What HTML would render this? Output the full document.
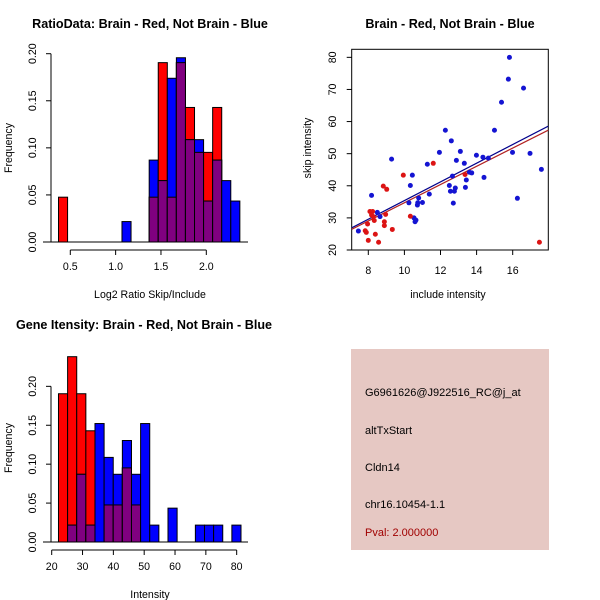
<!DOCTYPE html>
<html><head><meta charset="utf-8"><style>
body{margin:0;background:#fff;}
svg{display:block;font-family:"Liberation Sans",sans-serif;}
</style></head><body>
<svg id="c" width="600" height="600" viewBox="0 0 600 600">
<rect x="0" y="0" width="600" height="600" fill="#fff"/>
<rect x="351" y="349" width="198" height="201" fill="#e6c8c3"/>
<g font-size="11" fill="#000">
<text x="365" y="396">G6961626@J922516_RC@j_at</text>
<text x="365" y="434">altTxStart</text>
<text x="365" y="471">Cldn14</text>
<text x="365" y="508">chr16.10454-1.1</text>
<text x="365" y="536" fill="#a00000">Pval: 2.000000</text>
</g>
</svg>
<script>
// ---- Panel 1: ratio histogram ----
const ratioBinStarts = [0.37,0.47,0.57,0.67,0.77,0.87,0.97,1.07,1.17,1.27,1.37,1.47,1.57,1.67,1.77,1.87,1.97,2.07,2.17,2.27];
const ratioRed  = [0.0476,0,0,0,0,0,0,0,0,0,0.0476,0.1905,0.0476,0.1905,0.1429,0.0952,0.0952,0.1429,0,0];
const ratioBlue = [0,0,0,0,0,0,0,0.0217,0,0,0.0870,0.0652,0.1739,0.1957,0.1087,0.1087,0.0435,0.0870,0.0652,0.0435];
const ratioXTicks = [0.5,1.0,1.5,2.0];
const ratioYTicks = [0,0.05,0.10,0.15,0.20];
// ---- Panel 2: scatter ----
const blueInc  = [7.45,8.18,8.5,8.65,9.29,10.25,10.33,10.44,10.53,10.59,10.64,10.72,10.74,10.79,11.0,11.27,11.38,11.94,12.27,12.49,12.55,12.6,12.66,12.71,12.77,12.82,12.88,13.1,13.32,13.38,13.43,13.6,13.73,13.99,14.35,14.41,14.65,14.99,15.38,15.76,15.82,15.99,16.26,16.6,16.96,17.59];
const blueSkip = [25.9,37.0,31.7,30.4,48.3,34.7,40.1,43.3,30.0,28.8,29.3,34.0,34.7,36.2,34.8,46.7,37.4,50.4,57.3,40.1,38.3,54.0,43.0,34.6,38.3,39.3,47.9,50.7,47.0,39.5,41.8,44.2,44.0,49.5,48.9,42.6,48.6,57.3,66.0,73.2,80.0,50.4,36.1,70.4,50.1,45.1];
const redInc  = [7.83,7.89,7.96,8.0,8.09,8.18,8.24,8.28,8.33,8.39,8.57,8.83,8.89,8.89,8.96,9.02,9.33,9.94,10.33,11.6,13.36,17.48];
const redSkip = [26.0,25.5,28.1,23.0,32.0,30.9,32.0,30.4,29.2,24.9,22.4,39.9,28.8,27.6,31.1,38.9,26.4,43.3,30.5,47.0,43.5,22.4];
const scatXTicks = [8,10,12,14,16];
const scatYTicks = [20,30,40,50,60,70,80];
// ---- Panel 3: intensity histogram ----
const intBinStarts = [22.2,25.16,28.12,31.08,34.04,37.0,39.96,42.92,45.88,48.84,51.8,54.76,57.72,60.68,63.64,66.6,69.56,72.52,75.48,78.44];
const intRed  = [0.1905,0.2381,0.1905,0.1429,0,0.0476,0.0476,0.0952,0.0476,0,0,0,0,0,0,0,0,0,0,0];
const intBlue = [0,0.0217,0.0870,0.0217,0.1522,0.1087,0.0870,0.1304,0.0870,0.1522,0.0217,0,0.0435,0,0,0.0217,0.0217,0.0217,0,0.0217];
const intXTicks = [20,30,40,50,60,70,80];
const intYTicks = [0,0.05,0.10,0.15,0.20];

const NS='http://www.w3.org/2000/svg';
const svg=document.getElementById('c');
function mk(tag,attrs,parent){const e=document.createElementNS(NS,tag);for(const k in attrs)e.setAttribute(k,attrs[k]);(parent||svg).appendChild(e);return e;}
function txt(s,x,y,opt,parent){const t=mk('text',Object.assign({x:x,y:y,'text-anchor':'middle','font-size':10.6},opt||{}),parent);t.textContent=s;return t;}
function fmt2(v){return v.toFixed(2);}

function histPanel(name,starts,red,blue,width,xs,ys,xTicks,yTicks,axisY,yLabX,baseX0,baseX1,title,titleX,titleY,xlab,xlabY,ylabY,tickFmt){
  const g=mk('g',{});
  
  
  const y0=ys(0);
  for(let i=0;i<starts.length;i++){
    const xa=xs(starts[i]), xb=xs(starts[i]+width);
    const r=red[i], b=blue[i];
    if(r>0){const e=mk('rect',{x:xa,y:ys(r),width:xb-xa,height:y0-ys(r),fill:'#ff0000',stroke:'#000','stroke-width':1},g);
      
      }
    if(b>0){const e=mk('rect',{x:xa,y:ys(b),width:xb-xa,height:y0-ys(b),fill:'#0000ff',stroke:'#000','stroke-width':1},g);
      
      }
    const m=Math.min(r,b);
    if(m>0){const e=mk('rect',{x:xa,y:ys(m),width:xb-xa,height:y0-ys(m),fill:'#800080',stroke:'#000','stroke-width':1},g);
      
      }
  }
  mk('line',{x1:baseX0,x2:baseX1,y1:y0,y2:y0,stroke:'#000'},g);
  const xa=mk('g',{},g);
  
  
  mk('line',{x1:xs(xTicks[0]),x2:xs(xTicks[xTicks.length-1]),y1:axisY,y2:axisY,stroke:'#000'},xa);
  xTicks.forEach(t=>{mk('line',{x1:xs(t),x2:xs(t),y1:axisY,y2:axisY+5,stroke:'#000'},xa);txt(tickFmt(t),xs(t),axisY+20,{},xa);});
  const ya=mk('g',{},g);
  
  
  mk('line',{x1:yLabX+19,x2:yLabX+19,y1:ys(yTicks[0]),y2:ys(yTicks[yTicks.length-1]),stroke:'#000'},ya);
  yTicks.forEach(t=>{mk('line',{x1:yLabX+14,x2:yLabX+19,y1:ys(t),y2:ys(t),stroke:'#000'},ya);
    txt(fmt2(t),yLabX+4,ys(t),{transform:'rotate(-90 '+(yLabX+4)+' '+ys(t)+')'},ya);});
  const t1=txt(title,titleX,titleY,{'font-weight':'bold','font-size':12.6},g);
  
  
  const t2=txt(xlab,150,xlabY,{},g);
  
  
  const t3=txt('Frequency',12,ylabY,{transform:'rotate(-90 12 '+ylabY+')'},g);
  
  
}

const xs1=v=>70.3+(v-0.5)*90.67, ys1=v=>242-v*941.5;
histPanel('ratio-histogram',ratioBinStarts,ratioRed,ratioBlue,0.1,xs1,ys1,ratioXTicks,ratioYTicks,250,32,43,248,
 'RatioData: Brain - Red, Not Brain - Blue',150,28,'Log2 Ratio Skip/Include',298,148,v=>v.toFixed(1));
const xs3=v=>51.7+(v-20)*3.083, ys3=v=>542-v*778.3;
histPanel('intensity-histogram',intBinStarts,intRed,intBlue,2.96,xs3,ys3,intXTicks,intYTicks,550,32,43,248,
 'Gene Itensity: Brain - Red, Not Brain - Blue',144,329,'Intensity',598,448,v=>String(v));

const xs2=v=>368.3+(v-8)*18.05, ys2=v=>250-(v-20)*3.211;
const g2=mk('g',{});


mk('rect',{x:351.7,y:49.3,width:196.6,height:200.7,fill:'none',stroke:'#000'},g2);
const clip=mk('clipPath',{id:'sc'},g2);mk('rect',{x:351.7,y:49.3,width:196.6,height:200.7},clip);
function fit(xv,yv){const n=xv.length;let mx=0,my=0;for(let i=0;i<n;i++){mx+=xv[i];my+=yv[i];}mx/=n;my/=n;let sxy=0,sxx=0;for(let i=0;i<n;i++){sxy+=(xv[i]-mx)*(yv[i]-my);sxx+=(xv[i]-mx)**2;}const b=sxy/sxx;return [my-b*mx,b];}
const allInc=blueInc.concat(redInc), allSkip=blueSkip.concat(redSkip);
const fb=fit(allInc,allSkip), fr=fit(redInc.concat(blueInc),redSkip.concat(blueSkip));
const xl0=7.08,xl1=17.97;
const lb=mk('line',{x1:xs2(xl0),y1:ys2(fb[0]+fb[1]*xl0),x2:xs2(xl1),y2:ys2(fb[0]+fb[1]*xl1),stroke:'#00008b','stroke-width':1.2,'clip-path':'url(#sc)'},g2);


const lr=mk('line',{x1:xs2(xl0),y1:ys2(fr[0]+fr[1]*xl0)+1.5,x2:xs2(xl1),y2:ys2(fr[0]+fr[1]*xl1)+4,stroke:'#b22222','stroke-width':1.2,'clip-path':'url(#sc)'},g2);


blueInc.forEach((v,i)=>{const c=mk('circle',{cx:xs2(v),cy:ys2(blueSkip[i]),r:2.5,fill:'#1414d2'},g2);
  
  });
redInc.forEach((v,i)=>{const c=mk('circle',{cx:xs2(v),cy:ys2(redSkip[i]),r:2.5,fill:'#dc1414'},g2);
  
  });
const sx=mk('g',{},g2);


scatXTicks.forEach(t=>{mk('line',{x1:xs2(t),x2:xs2(t),y1:250,y2:255,stroke:'#000'},sx);txt(String(t),xs2(t),274,{},sx);});
const sy=mk('g',{},g2);


scatYTicks.forEach(t=>{mk('line',{x1:346.7,x2:351.7,y1:ys2(t),y2:ys2(t),stroke:'#000'},sy);txt(String(t),336,ys2(t),{transform:'rotate(-90 336 '+ys2(t)+')'},sy);});
const st=txt('Brain - Red, Not Brain - Blue',450,28,{'font-weight':'bold','font-size':12.6},g2);


const sxl=txt('include intensity',448,298,{},g2);


const syl=txt('skip intensity',311,148,{transform:'rotate(-90 311 148)'},g2);


</script>
</body></html>
